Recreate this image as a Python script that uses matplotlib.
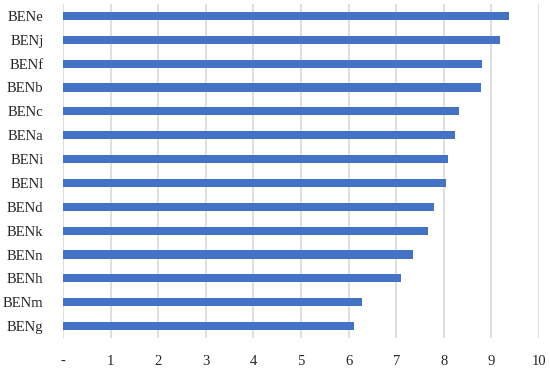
import matplotlib
matplotlib.use("Agg")
import matplotlib.pyplot as plt

categories = ["BENe", "BENj", "BENf", "BENb", "BENc", "BENa", "BENi",
              "BENl", "BENd", "BENk", "BENn", "BENh", "BENm", "BENg"]
values = [9.36, 9.18, 8.81, 8.78, 8.32, 8.24, 8.09,
          8.04, 7.80, 7.67, 7.35, 7.10, 6.29, 6.12]
xticks = [0, 1, 2, 3, 4, 5, 6, 7, 8, 9, 10]
xtick_labels = ["-", "1", "2", "3", "4", "5", "6", "7", "8", "9", "10"]

plt.rcParams['font.family'] = ['Liberation Serif', 'DejaVu Serif']

fig = plt.figure(figsize=(5.5, 3.69), dpi=100)
ax = fig.add_axes([63/550, 1 - 338/369, (539 - 63)/550, (338 - 4)/369])

pos = list(range(len(categories)))
ax.barh(pos, values, height=0.34, color="#4472C4", zorder=3)
ax.set_ylim(len(categories) - 0.5, -0.5)
ax.set_xlim(0, 10)
ax.set_yticks(pos)
ax.set_yticklabels(categories, fontsize=10.5, color="#262626")
ax.set_xticks(xticks)
ax.set_xticklabels(xtick_labels, fontsize=10.5, color="#262626")
ax.tick_params(axis='both', length=0)
ax.tick_params(axis='y', pad=14)
ax.tick_params(axis='x', pad=12)
ax.grid(axis='x', color="#d9d9d9", linewidth=1.2, zorder=0)
for s in ax.spines.values():
    s.set_visible(False)

fig.savefig("out.png", dpi=100)
